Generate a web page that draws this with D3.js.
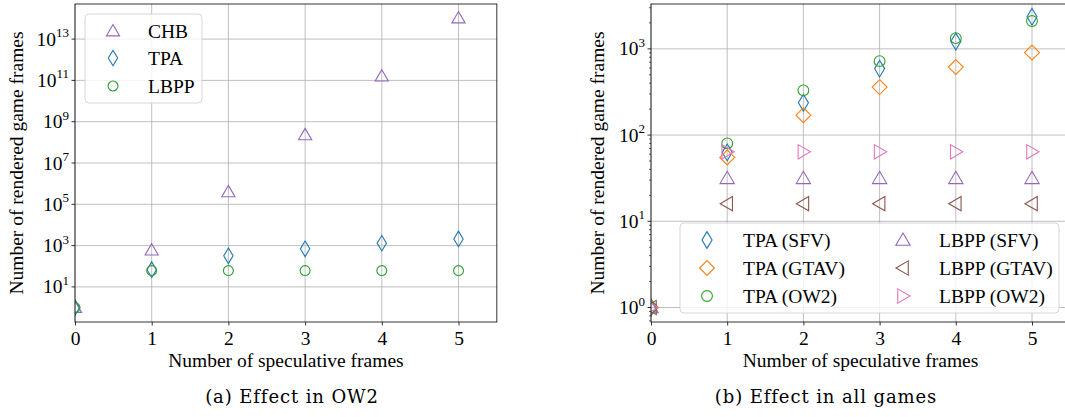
<!DOCTYPE html>
<html><head><meta charset="utf-8">
<script src="https://cdn.jsdelivr.net/npm/d3@7"></script>
<style>
body{margin:0;background:#fff;}
svg{display:block;font-family:"Liberation Serif","Times New Roman",serif;}
</style></head>
<body><svg id="c" width="1065" height="417"></svg>
<script>
const xs = [0,1,2,3,4,5];
// Left panel (OW2)
const chbOW2  = [1, 600, 4e5, 2.3e8, 1.6e11, 1.05e14];
const tpaOW2  = [1, 68, 320, 700, 1300, 2100];
const lbppOW2 = [1, 62, 62, 62, 62, 62];
// Right panel (all games)
const tpaSFV   = [1, 63, 237, 590, 1215, 2350];
const tpaGTAV  = [1, 55, 170, 360, 615, 906];
const tpaOW2b  = [1, 80, 330, 720, 1330, 2100];
const lbppSFV  = [1, 31.5, 31.5, 31.5, 31.5, 31.5];
const lbppGTAV = [1, 16, 16, 16, 16, 16];
const lbppOW2b = [1, 64, 64, 64, 64, 64];
const xTicks = [0,1,2,3,4,5];
const leftYTicks = [1,3,5,7,9,11,13];
const rightYTicks = [0,1,2,3];
const xLabel = "Number of speculative frames";
const yLabel = "Number of rendered game frames";

const FS = 19.5;
const C = {blue:"#1f77b4",orange:"#ff7f0e",green:"#2ca02c",purple:"#9467bd",brown:"#8c564b",pink:"#e377c2"};
const svg = d3.select("#c");

function marker(g, type, x, y, color, s){
  const p = d3.path();
  if(type==="tri"){ const h=s*0.9, w=s*0.55; p.moveTo(x,y-h*0.6);p.lineTo(x+w,y+h*0.45);p.lineTo(x-w,y+h*0.45);p.closePath(); }
  else if(type==="triL"){ const h=s*0.9, w=s*0.55; p.moveTo(x-h*0.6,y);p.lineTo(x+h*0.45,y-w);p.lineTo(x+h*0.45,y+w);p.closePath(); }
  else if(type==="triR"){ const h=s*0.9, w=s*0.55; p.moveTo(x+h*0.6,y);p.lineTo(x-h*0.45,y-w);p.lineTo(x-h*0.45,y+w);p.closePath(); }
  else if(type==="thin"){ p.moveTo(x,y-s*0.6);p.lineTo(x+s*0.36,y);p.lineTo(x,y+s*0.6);p.lineTo(x-s*0.36,y);p.closePath(); }
  else if(type==="D"){ p.moveTo(x,y-s*0.62);p.lineTo(x+s*0.62,y);p.lineTo(x,y+s*0.62);p.lineTo(x-s*0.62,y);p.closePath(); }
  if(type==="circ"){ g.append("circle").attr("cx",x).attr("cy",y).attr("r",s*0.45).attr("fill","none").attr("stroke",color).attr("stroke-width",1.1); return; }
  g.append("path").attr("d",p.toString()).attr("fill","none").attr("stroke",color).attr("stroke-width",1.1);
}

function panel(opt){
  const x = d3.scaleLinear().domain([0,5.5]).range([opt.x0, opt.x0+5.5*opt.step]);
  const y = d3.scaleLog().domain(opt.ydom).range([322,4]);
  const g = svg.append("g");
  const clipId = "clip"+opt.id;
  g.append("clipPath").attr("id",clipId).append("rect").attr("x",opt.x0).attr("y",4).attr("width",5.5*opt.step).attr("height",318);
  // grid
  const grid = g.append("g").attr("stroke","#b0b0b0").attr("stroke-width",0.8);
  xTicks.forEach(t=>grid.append("line").attr("x1",x(t)).attr("x2",x(t)).attr("y1",4).attr("y2",322));
  opt.yt.forEach(e=>grid.append("line").attr("x1",opt.x0).attr("x2",opt.x0+5.5*opt.step).attr("y1",y(Math.pow(10,e))).attr("y2",y(Math.pow(10,e))));
  // data
  const dg = g.append("g").attr("clip-path",`url(#${clipId})`);
  opt.series.forEach(s=>{ xs.forEach((xv,i)=>marker(dg,s.type,x(xv),y(s.vals[i]),s.color,s.size)); });
  // axes
  const xa = d3.axisBottom(x).tickValues(xTicks).tickSize(3.5).tickPadding(6).tickFormat(d3.format("d"));
  const ax = g.append("g").attr("transform","translate(0,322)").call(xa);
  ax.select(".domain").remove();
  ax.selectAll("text").attr("font-size",FS).attr("font-family","Liberation Serif").attr("fill","#000");
  ax.selectAll("line").attr("stroke","#000").attr("stroke-width",0.8);
  // y ticks
  const ya = g.append("g");
  opt.yt.forEach(e=>{
    const yy = y(Math.pow(10,e));
    ya.append("line").attr("x1",opt.x0-3.5).attr("x2",opt.x0).attr("y1",yy).attr("y2",yy).attr("stroke","#000").attr("stroke-width",0.8);
    const t = ya.append("text").attr("x",opt.x0-6).attr("y",yy+6.5).attr("text-anchor","end").attr("font-size",FS);
    t.append("tspan").text("10");
    t.append("tspan").attr("dy",-8.5).attr("font-size",13).text(String(e));
  });
  if(opt.minor){
    const [lo,hi]=y.domain();
    for(let e=Math.floor(Math.log10(lo)); e<=Math.ceil(Math.log10(hi)); e++){
      for(let m=2;m<=9;m++){ const v=m*Math.pow(10,e); if(v<lo||v>hi) continue;
        ya.append("line").attr("x1",opt.x0-2).attr("x2",opt.x0).attr("y1",y(v)).attr("y2",y(v)).attr("stroke","#000").attr("stroke-width",0.6);}
    }
  }
  // frame
  const fr = g.append("g").attr("stroke","#000").attr("stroke-width",0.8).attr("fill","none");
  fr.append("rect").attr("x",opt.x0).attr("y",4).attr("width",5.5*opt.step).attr("height",318);
  // labels
  g.append("text").attr("x",opt.x0+2.75*opt.step).attr("y",367).attr("text-anchor","middle").attr("font-size",FS).text(xLabel);
  g.append("text").attr("transform",`translate(${opt.ylx},163) rotate(-90)`).attr("text-anchor","middle").attr("font-size",FS).text(yLabel);
  g.append("text").attr("x",opt.capx).attr("y",403).attr("text-anchor","middle").attr("font-size",18)
    .attr("letter-spacing",0.9).attr("font-family","DejaVu Serif").text(opt.caption);
  // legend
  const L = opt.legend;
  const lg = g.append("g");
  lg.append("rect").attr("x",L.x).attr("y",L.y).attr("width",L.w).attr("height",L.h).attr("rx",4)
    .attr("fill","rgba(255,255,255,0.8)").attr("stroke","#cccccc").attr("stroke-width",0.8);
  L.items.forEach(it=>{
    marker(lg, it.s.type, it.mx, it.my, it.s.color, it.s.size);
    lg.append("text").attr("x",it.tx).attr("y",it.my+6.5).attr("font-size",FS).text(it.s.name);
  });
}

const sCHB={name:"CHB",type:"tri",color:C.purple,vals:chbOW2,size:12};
const sTPA={name:"TPA",type:"thin",color:C.blue,vals:tpaOW2,size:13};
const sLB={name:"LBPP",type:"circ",color:C.green,vals:lbppOW2,size:11};
panel({id:"a",x0:75,step:76.7,ydom:[Math.pow(10,-0.7),Math.pow(10,14.7)],yt:leftYTicks,minor:false,
  series:[sCHB,sTPA,sLB],ylx:23,capx:292,caption:"(a) Effect in OW2",
  legend:{x:85,y:14,w:117,h:89,items:[
    {s:sCHB,mx:113,my:31,tx:148},{s:sTPA,mx:113,my:58,tx:148},{s:sLB,mx:113,my:86,tx:148}]}});

const r1={name:"TPA (SFV)",type:"thin",color:C.blue,vals:tpaSFV,size:14};
const r2={name:"TPA (GTAV)",type:"D",color:C.orange,vals:tpaGTAV,size:12};
const r3={name:"TPA (OW2)",type:"circ",color:C.green,vals:tpaOW2b,size:12};
const r4={name:"LBPP (SFV)",type:"tri",color:C.purple,vals:lbppSFV,size:13};
const r5={name:"LBPP (GTAV)",type:"triL",color:C.brown,vals:lbppGTAV,size:13};
const r6={name:"LBPP (OW2)",type:"triR",color:C.pink,vals:lbppOW2b,size:13};
panel({id:"b",x0:651,step:76.2,ydom:[Math.pow(10,-0.168),Math.pow(10,3.52)],yt:rightYTicks,minor:true,
  series:[r1,r2,r3,r4,r5,r6],ylx:604,capx:826,caption:"(b) Effect in all games",
  legend:{x:680,y:223,w:379,h:90,items:[
    {s:r1,mx:707,my:240,tx:743},{s:r2,mx:707,my:268,tx:743},{s:r3,mx:707,my:296,tx:743},
    {s:r4,mx:903,my:240,tx:939},{s:r5,mx:903,my:268,tx:939},{s:r6,mx:903,my:296,tx:939}]}});
</script></body></html>
